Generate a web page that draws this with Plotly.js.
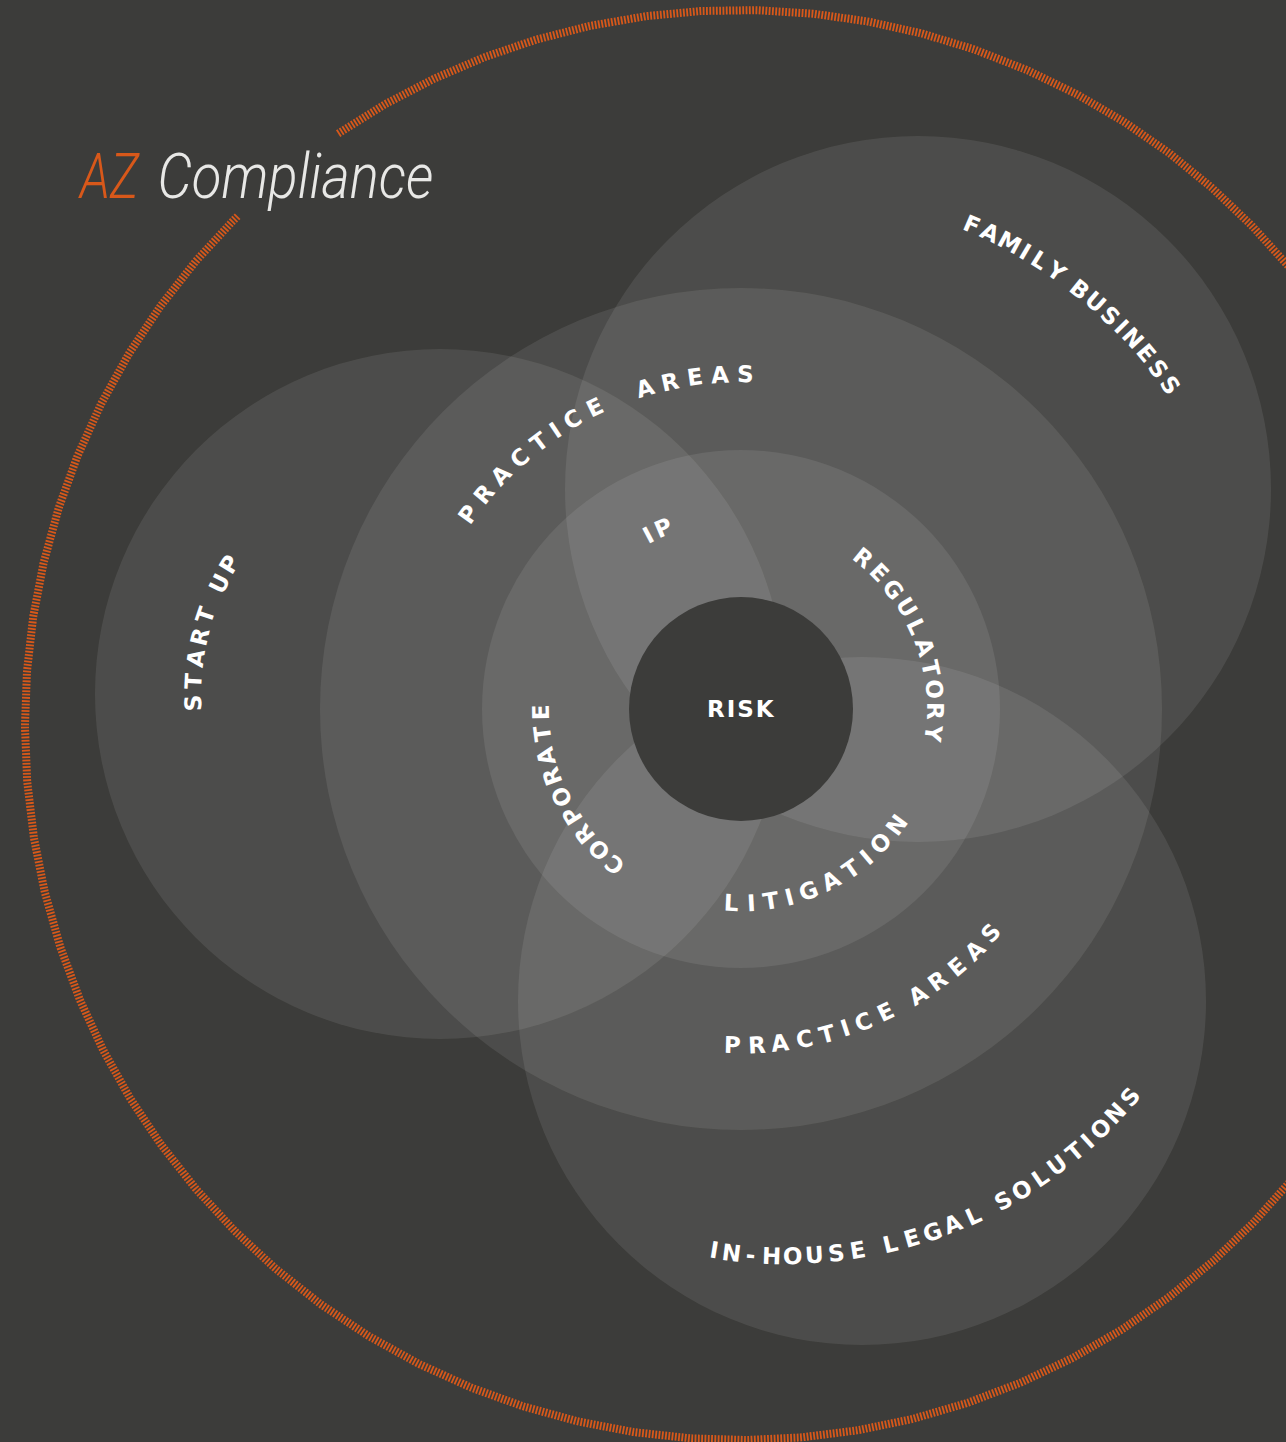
<!DOCTYPE html>
<html>
<head>
<meta charset="utf-8">
<script src="https://cdn.plot.ly/plotly-3.0.1.min.js"></script>
<style>html,body{margin:0;padding:0;background:#3c3c3a;}#chart{width:1286px;height:1442px;}</style>
</head>
<body>
<div id="chart"></div>
<script>
// ---- Data ----
// Translucent circles (center x, center y, radius) in page units
const circleNames = ['Start Up', 'Practice Areas', 'Family Business', 'In-House Legal Solutions', 'Core Practice'];
const circleCX = [440, 741, 918, 862, 741];
const circleCY = [694, 709, 489, 1001, 709];
const circleR  = [345, 421, 353, 344, 259];

// Central risk circle
const riskLabel = 'RISK';
const riskCX = 741, riskCY = 709, riskR = 112;

// Outer orange ring
const ringCX = 740, ringCY = 725, ringR = 715;
const ringGapStart = -134.6, ringGapEnd = -124.2; // degrees (screen, clockwise)

// Curved labels: text, arc center, arc radius, first/last letter angle, orientation
const labelTexts   = ['START UP', 'PRACTICE  AREAS', 'FAMILY BUSINESS', 'IP', 'REGULATORY', 'CORPORATE', 'LITIGATION', 'PRACTICE AREAS', 'IN-HOUSE LEGAL SOLUTIONS'];
const labelCX      = [440, 741, 788, 741, 741, 741, 741, 741, 787];
const labelCY      = [694, 709, 655, 709, 709, 709, 709, 709, 806];
const labelR       = [247, 335, 468, 197, 194, 200, 194, 336, 450];
const labelStart   = [177.9, -144.4, -66.8, -117.9, -50.9, 129.0, 92.7, 91.4, 99.3];
const labelEnd     = [211.7, -89.3, -35.25, -113.3, 7.05, 179.1, 36.6, 41.9, 40.3];
const labelOutward = [true, true, true, true, true, true, false, false, false];

// Title words and their horizontal extents
const titleWords = ['AZ', 'Compliance'];
const titleLeft  = [79, 157];
const titleRight = [138, 433];

// ---- Build ----
const BG = '#3c3c3a';
const ORANGE = '#d8581a';
const titleColors = [ORANGE, '#e8e8e6'];
const charW = c => c === 'I' ? 0.6 : (c === ' ' ? 0.55 : (c === 'M' ? 1.2 : (c === '-' ? 0.85 : 1)));
const LETTER_FONT = {family: 'DejaVu Sans', size: 23, color: '#ffffff', weight: 'bold'};

const shapes = circleCX.map((cx, i) => ({
  type: 'circle', xref: 'x', yref: 'y', layer: 'below',
  x0: cx - circleR[i], x1: cx + circleR[i], y0: circleCY[i] - circleR[i], y1: circleCY[i] + circleR[i],
  fillcolor: 'rgba(255,255,255,0.085)', line: {width: 0}
}));
shapes.push({
  type: 'circle', xref: 'x', yref: 'y', layer: 'below',
  x0: riskCX - riskR, x1: riskCX + riskR, y0: riskCY - riskR, y1: riskCY + riskR,
  fillcolor: BG, line: {width: 0}
});

const annotations = [];
labelTexts.forEach((txt, k) => {
  const chars = txt.split('');
  const pos = [0];
  for (let i = 1; i < chars.length; i++) pos.push(pos[i - 1] + (charW(chars[i - 1]) + charW(chars[i])) / 2);
  const total = pos[pos.length - 1] || 1;
  chars.forEach((c, i) => {
    if (c === ' ') return;
    const th = labelStart[k] + (labelEnd[k] - labelStart[k]) * pos[i] / total;
    const rad = th * Math.PI / 180;
    let ang = labelOutward[k] ? th + 90 : th - 90;
    ang = ((ang + 540) % 360) - 180;
    annotations.push({
      x: labelCX[k] + labelR[k] * Math.cos(rad),
      y: labelCY[k] + labelR[k] * Math.sin(rad),
      xref: 'x', yref: 'y', text: c, showarrow: false, textangle: ang,
      xanchor: 'center', yanchor: 'middle', font: LETTER_FONT
    });
  });
});
annotations.push({
  x: riskCX, y: riskCY, xref: 'x', yref: 'y', showarrow: false,
  text: '<span style="letter-spacing:2px">' + riskLabel + '</span>',
  xanchor: 'center', yanchor: 'middle', font: LETTER_FONT
});
const titleStartIdx = annotations.length;
titleWords.forEach((w, i) => {
  annotations.push({
    x: (titleLeft[i] + titleRight[i]) / 2, y: 176, xref: 'x', yref: 'y', showarrow: false,
    xanchor: 'center', yanchor: 'middle', text: w,
    font: {family: 'Roboto', size: 63, color: titleColors[i], weight: 300, style: 'italic'}
  });
});

// ring
const rx = [], ry = [];
for (let a = ringGapEnd; a <= ringGapStart + 360; a += 0.2) {
  const r = a * Math.PI / 180;
  rx.push(ringCX + ringR * Math.cos(r));
  ry.push(ringCY + ringR * Math.sin(r));
}
const traces = [{
  type: 'scatter', mode: 'lines', x: rx, y: ry, hoverinfo: 'skip',
  line: {color: ORANGE, width: 8, dash: '1.8px,1.5px'}
}];

const layout = {
  width: 1286, height: 1442,
  margin: {l: 0, r: 0, t: 0, b: 0, pad: 0},
  paper_bgcolor: BG, plot_bgcolor: BG, showlegend: false,
  xaxis: {range: [0, 1286], visible: false, fixedrange: true},
  yaxis: {range: [1442, 0], visible: false, fixedrange: true},
  shapes: shapes, annotations: annotations
};
Plotly.newPlot('chart', traces, layout, {staticPlot: true, displayModeBar: false}).then(gd => {
  // condense the title glyphs horizontally to match the narrow display face
  const texts = gd.querySelectorAll('.annotation-text');
  titleWords.forEach((w, i) => {
    const t = texts[titleStartIdx + i];
    if (t) {
      t.setAttribute('textLength', titleRight[i] - titleLeft[i]);
      t.setAttribute('lengthAdjust', 'spacingAndGlyphs');
    }
  });
});
</script>
</body>
</html>
